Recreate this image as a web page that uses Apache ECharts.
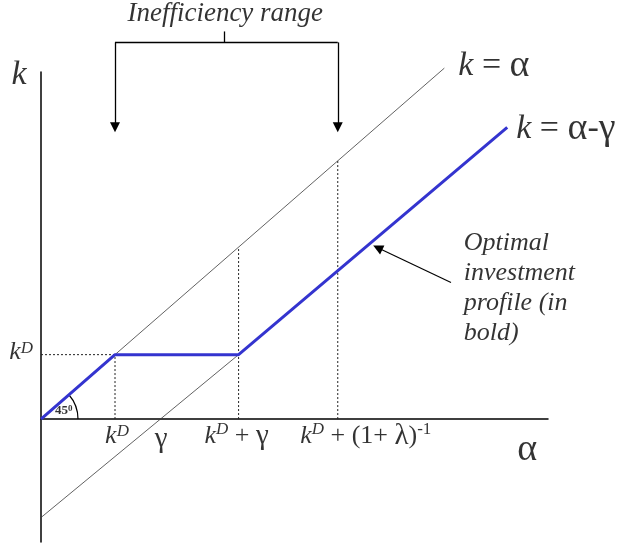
<!DOCTYPE html>
<html>
<head>
<meta charset="utf-8">
<script src="https://cdn.jsdelivr.net/npm/echarts@6/dist/echarts.min.js"></script>
<style>
  html, body { margin: 0; padding: 0; background: #fff; }
  #chart { width: 625px; height: 547px; }
</style>
</head>
<body>
<div id="chart"></div>
<script>
// Key points on the α axis (k^D normalised to 1)
const kD = 1;
const gammaCross = 1.61;         // where k = α - γ meets the α axis
const kDPlusGamma = 2.67;        // k^D + γ
const kDPlusInv = 4.01;          // k^D + (1+λ)^-1

// Lines of the diagram, as [α, k] pairs
const diagonal = [[0, 0], [5.45, 5.45]];                 // k = α
const shiftedDiagonal = [[0, -1.53], [2.67, 1]];         // k = α - γ (thin part)
const optimalProfile = [[0, 0], [1, 1], [2.67, 1], [6.30, 4.53]];

// Dotted guide segments
const guides = [
  [[kD, 0], [kD, 1]],
  [[0, 1], [kD, 1]],
  [[kDPlusGamma, 0], [kDPlusGamma, 2.67]],
  [[kDPlusInv, 0], [kDPlusInv, 4.01]]
];

// Bracket for the inefficiency range
const bracketTop = 5.85;
const bracketPeak = 6.02;
const bracketArrowTip = 4.53;
const bracketCentre = 2.47;

// Pointer from the note to the bold profile
const pointer = [[5.54, 2.12], [4.55, 2.66]];

// Tick labels along the α axis
const tickValues = [kD, gammaCross, kDPlusGamma, kDPlusInv];
const tickLabels = [
  '{k|k}{sup|D}',
  '{gk|γ}',
  '{k|k}{sup|D}{r| + }{gk|γ}',
  '{k|k}{sup|D}{r| + (1+ }{gk|λ}{r|)}{supr|-1}'
];

const serif = 'Liberation Serif';

function richSet(fs) {
  const s = (o) => Object.assign({ fontFamily: serif, fontSize: fs, color: '#000' }, o);
  return {
    k: s({ fontStyle: 'italic' }),
    sup: s({ fontStyle: 'italic', fontSize: Math.round(fs * 0.65), verticalAlign: 'top' }),
    supr: s({ fontSize: Math.round(fs * 0.65), verticalAlign: 'top' }),
    r: s({}),
    gk: s({ fontSize: Math.round(fs * 1.12) }),
    b: s({ fontSize: 13, fontWeight: 'bold' }),
    bsup: s({ fontSize: 9, fontWeight: 'bold', verticalAlign: 'top' })
  };
}

// A text placed at a data point, with a pixel offset and alignment
function textMark(name, point, text, fs, align, vAlign, offset, extra) {
  return {
    name: name,
    type: 'scatter',
    symbolSize: 0,
    silent: true,
    clip: false,
    z: 10,
    data: [point],
    label: Object.assign({
      show: true,
      position: 'inside',
      formatter: text,
      align: align,
      verticalAlign: vAlign,
      offset: offset || [0, 0],
      rich: richSet(fs),
      fontFamily: serif,
      fontSize: fs,
      color: '#000'
    }, extra || {})
  };
}

const thinLine = { color: '#3a3a3a', width: 0.8 };
const dotted = { color: '#222', width: 1, type: [2, 2] };

const series = [
  { name: 'k = α', type: 'line', data: diagonal, symbol: 'none', clip: false, lineStyle: thinLine, silent: true },
  { name: 'k = α-γ', type: 'line', data: shiftedDiagonal, symbol: 'none', clip: false, lineStyle: thinLine, silent: true }
];

guides.forEach((g, i) => series.push({
  name: 'guide' + i, type: 'line', data: g, symbol: 'none', clip: false, lineStyle: dotted, silent: true
}));

series.push({
  name: 'Optimal investment profile', type: 'line', data: optimalProfile, symbol: 'none', clip: false,
  lineStyle: { color: '#3434cf', width: 3 }, z: 5, silent: true
});

// Bracket: horizontal bar, centre tick and two arrows
series.push({
  name: 'bracket', type: 'lines', coordinateSystem: 'cartesian2d', clip: false, silent: true,
  lineStyle: { color: '#000', width: 1.3, opacity: 1 },
  symbol: ['none', 'none'],
  data: [
    { coords: [[kD, bracketTop], [kDPlusInv, bracketTop]] },
    { coords: [[bracketCentre, bracketTop], [bracketCentre, bracketPeak]] }
  ]
});
series.push({
  name: 'bracketArrows', type: 'lines', coordinateSystem: 'cartesian2d', clip: false, silent: true,
  lineStyle: { color: '#000', width: 1.3, opacity: 1 },
  symbol: ['none', 'triangle'], symbolSize: [8, 10],
  data: [
    { coords: [[kD, bracketTop], [kD, bracketArrowTip]] },
    { coords: [[kDPlusInv, bracketTop], [kDPlusInv, bracketArrowTip]] }
  ]
});
series.push({
  name: 'pointer', type: 'lines', coordinateSystem: 'cartesian2d', clip: false, silent: true,
  lineStyle: { color: '#000', width: 1.2, opacity: 1 },
  symbol: ['none', 'triangle'], symbolSize: [8, 10],
  data: [{ coords: pointer }]
});

// 45° angle arc at the origin
series.push({
  name: 'angle', type: 'custom', clip: false, silent: true,
  data: [[0, 0, kD, kD]],
  renderItem: function (params, api) {
    const o = api.coord([api.value(0), api.value(1)]);
    const p = api.coord([api.value(2), api.value(3)]);
    const ang = Math.atan2(p[1] - o[1], p[0] - o[0]);
    return {
      type: 'arc',
      shape: { cx: o[0], cy: o[1], r: 37, startAngle: ang, endAngle: 0, clockwise: true },
      style: { stroke: '#000', fill: null, lineWidth: 1.2 }
    };
  }
});

// Text annotations
series.push(textMark('title', [2.49, 6.30], 'Inefficiency range', 27, 'center', 'middle', [0, 0], { fontStyle: 'italic' }));
series.push(textMark('kAxis', [0, 5.34], '{k|k}', 34, 'center', 'middle', [-22, 0]));
series.push(textMark('alphaAxis', [6.57, 0], '{gk|α}', 34, 'center', 'middle', [0, 31]));
series.push(textMark('lineLabel1', [5.45, 5.45], '{k|k}{r| = }{gk|α}', 34, 'left', 'middle', [14, -2]));
series.push(textMark('lineLabel2', [6.30, 4.53], '{k|k}{r| = }{gk|α}{r|-}{gk|γ}', 34, 'left', 'middle', [9, 2]));
series.push(textMark('kDLeft', [0, kD], '{k|k}{sup|D}', 26, 'right', 'middle', [-8, -2]));
series.push(textMark('angleLabel', [0, 0], '{b|45}{bsup|0}', 13, 'left', 'middle', [14, -8]));
series.push(textMark('note', [5.74, 2.97], 'Optimal\ninvestment\nprofile (in\nbold)', 26, 'left', 'top', [-2, 0],
  { fontStyle: 'italic', lineHeight: 30 }));

const tickOffsets = [[2, 17], [1, 20], [-2, 17], [28, 17]];
tickValues.forEach((v, i) => {
  series.push(textMark('tick' + i, [v, 0], tickLabels[i], 26, 'center', 'middle', tickOffsets[i]));
});

const chart = echarts.init(document.getElementById('chart'), null, { renderer: 'canvas' });
chart.setOption({
  animation: false,
  backgroundColor: '#fff',
  textStyle: { fontFamily: serif },
  grid: { left: 41, right: 77, top: 72, bottom: 5, containLabel: false },
  xAxis: {
    type: 'value', min: 0, max: 6.851,
    axisLine: { show: true, onZero: true, lineStyle: { color: '#000', width: 1.5 } },
    axisTick: { show: false }, axisLabel: { show: false }, splitLine: { show: false }
  },
  yAxis: {
    type: 'value', min: -1.91, max: 5.39,
    axisLine: { show: true, onZero: false, lineStyle: { color: '#000', width: 1.5 } },
    axisTick: { show: false }, axisLabel: { show: false }, splitLine: { show: false }
  },
  series: series
});
</script>
</body>
</html>
